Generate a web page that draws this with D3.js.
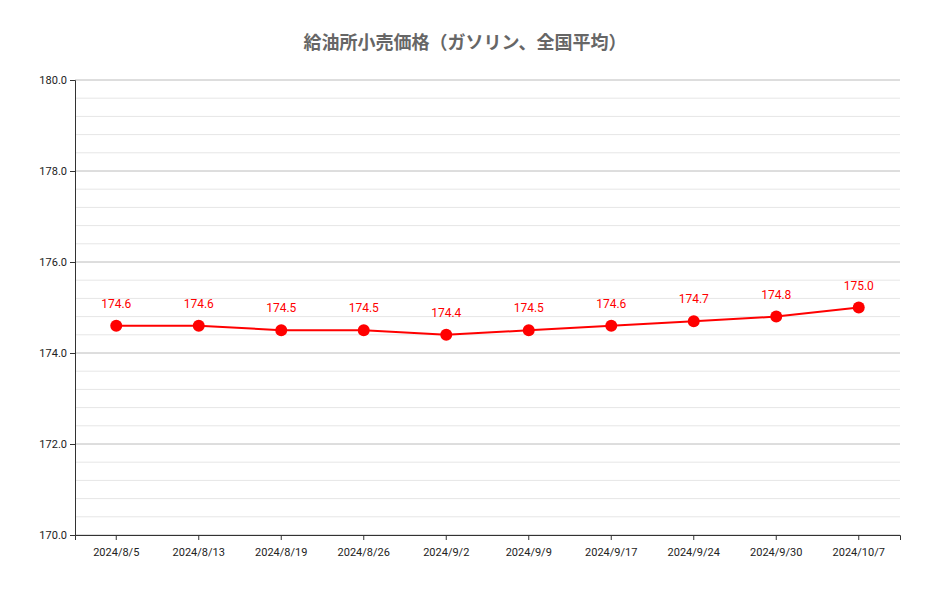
<!DOCTYPE html>
<html><head><meta charset="utf-8">
<script src="https://cdn.jsdelivr.net/npm/d3@7"></script>
<style>body{margin:0;background:#fff;font-family:Roboto,"Noto Sans CJK JP",sans-serif;}</style>
</head><body><div id="chart"></div>
<script>
var categories = ["2024/8/5","2024/8/13","2024/8/19","2024/8/26","2024/9/2","2024/9/9","2024/9/17","2024/9/24","2024/9/30","2024/10/7"];
var prices = [174.6,174.6,174.5,174.5,174.4,174.5,174.6,174.7,174.8,175.0];
var majorTicks = [170,172,174,176,178,180];

var W = 930, H = 591, mLeft = 75, mRight = 900, mTop = 80, mBottom = 535;
var svg = d3.select("#chart").append("svg").attr("width", W).attr("height", H);

var x = d3.scaleBand().domain(categories).range([mLeft, mRight]);
var y = d3.scaleLinear().domain([170, 180]).range([mBottom, mTop]);

var minor = d3.range(0, 26).map(function (i) { return 170 + i * 0.4; });
svg.selectAll(".minor").data(minor).enter().append("line")
    .attr("x1", mLeft).attr("x2", mRight)
    .attr("y1", function (d) { return y(d); }).attr("y2", function (d) { return y(d); })
    .style("stroke", "#e6e6e6");
svg.selectAll(".major").data(majorTicks).enter().append("line")
    .attr("x1", mLeft).attr("x2", mRight)
    .attr("y1", function (d) { return y(d); }).attr("y2", function (d) { return y(d); })
    .style("stroke", "#c8c8c8");

var yAxis = svg.append("g").attr("transform", "translate(" + mLeft + ",0)")
    .call(d3.axisLeft(y).tickValues(majorTicks).tickFormat(d3.format(".1f")).tickSize(5));
var xAxis = svg.append("g").attr("transform", "translate(0," + mBottom + ")")
    .call(d3.axisBottom(x).tickSize(5).tickPadding(8));
[yAxis, xAxis].forEach(function (a) {
    a.selectAll("text").style("font-size", "11px").style("fill", "#222").style("font-family", "Roboto");
    a.selectAll("line,path").style("stroke", "#333");
});

var cx = function (d, i) { return x(categories[i]) + x.bandwidth() / 2; };
svg.append("path").datum(prices)
    .attr("d", d3.line().x(cx).y(function (d) { return y(d); }))
    .style("fill", "none").style("stroke", "#ff0000").style("stroke-width", 2);
svg.selectAll(".pt").data(prices).enter().append("circle")
    .attr("cx", cx).attr("cy", function (d) { return y(d); }).attr("r", 6)
    .style("fill", "#ff0000");
svg.selectAll(".lbl").data(prices).enter().append("text")
    .attr("x", cx).attr("y", function (d) { return y(d) - 18; })
    .attr("text-anchor", "middle").style("font-size", "12px").style("fill", "#ff0000")
    .text(function (d) { return d.toFixed(1); });

svg.append("text").attr("x", 465).attr("y", 49).attr("text-anchor", "middle")
    .style("font-size", "18px").style("font-weight", "bold").style("fill", "#666")
    .style("font-family", "'Noto Sans CJK JP'")
    .text("給油所小売価格（ガソリン、全国平均）");
</script></body></html>
